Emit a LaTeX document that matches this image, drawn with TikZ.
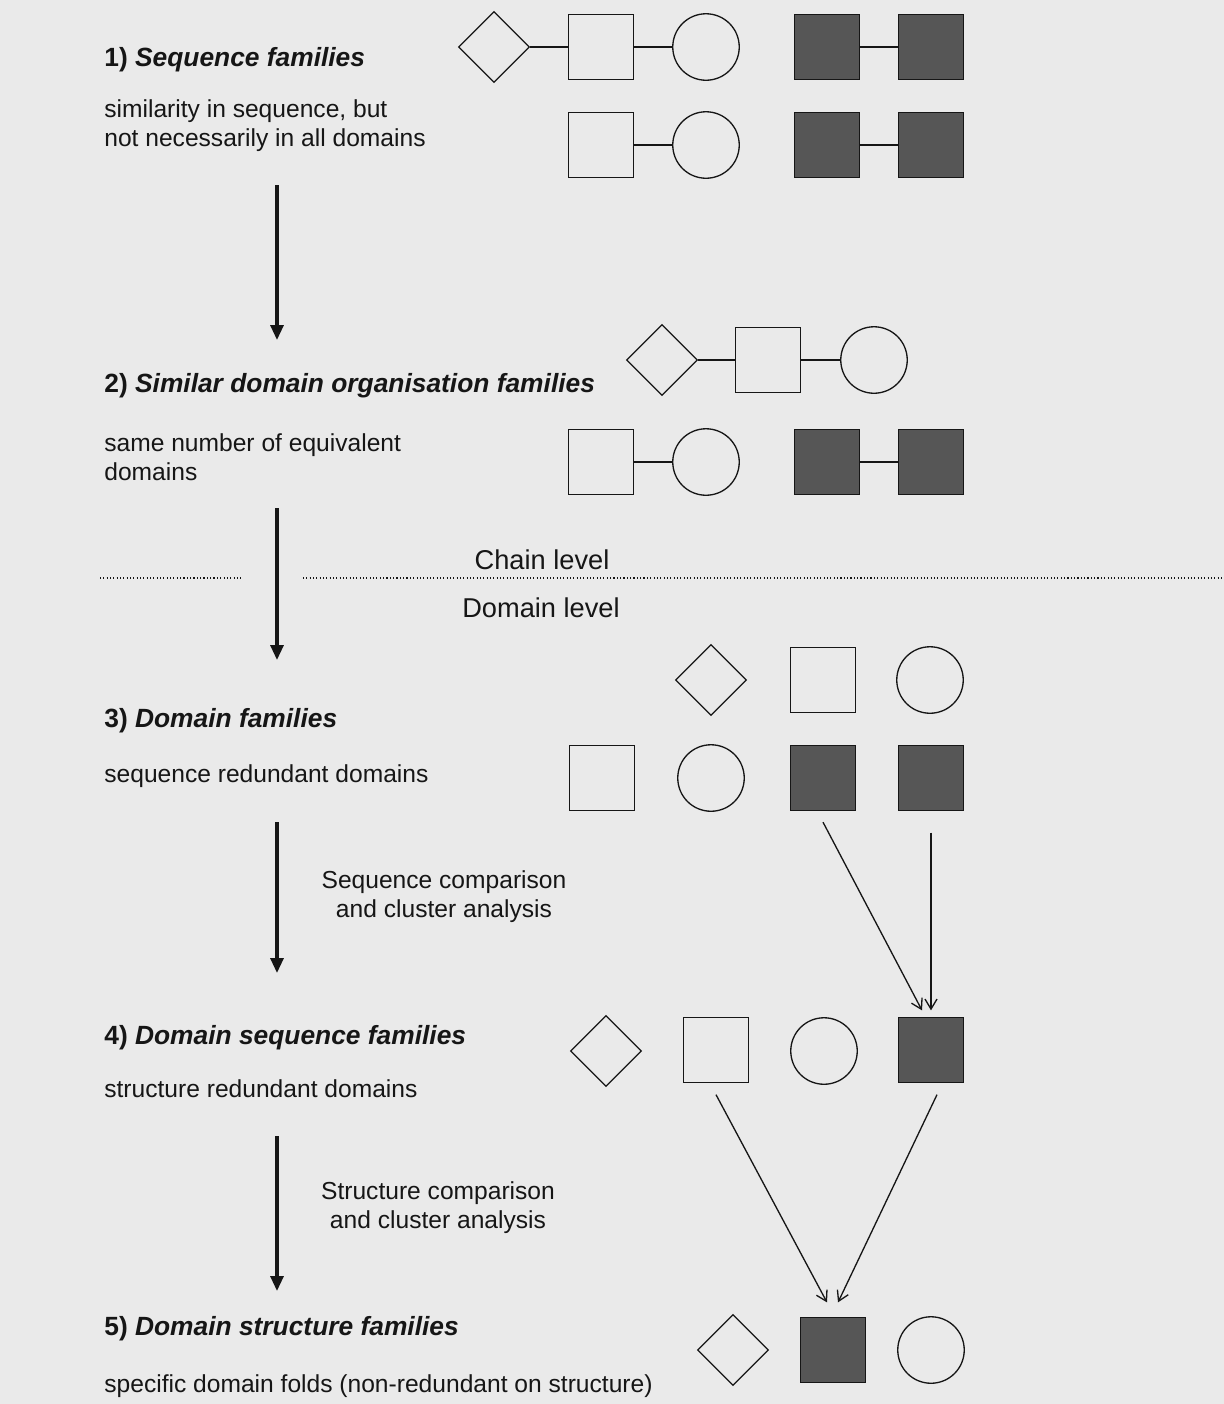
\documentclass[tikz,border=0pt]{standalone}
\usepackage{fontspec}
\setmainfont{Liberation Sans}
\usetikzlibrary{shapes.geometric,arrows.meta}
\definecolor{paper}{RGB}{234,234,234}
\definecolor{ink}{RGB}{22,22,22}
\definecolor{shade}{RGB}{86,86,86}
\tikzset{
  sqbox/.style={draw=ink, line width=0.75pt, minimum size=1.3cm, inner sep=0pt},
  darkbox/.style={sqbox, fill=shade},
  ringnode/.style={draw=ink, line width=0.75pt, circle, minimum size=1.33cm, inner sep=0pt},
  kitenode/.style={draw=ink, line width=0.75pt, diamond, minimum size=1.42cm, inner sep=0pt},
  joinline/.style={draw=ink, line width=1.1pt},
  flow/.style={ink, line width=1.8pt, -{Triangle[length=0.3cm,width=0.26cm]}},
  merge/.style={ink, line width=0.75pt, -{Straight Barb[length=0.2cm,width=0.24cm]}},
  levelline/.style={ink, line width=1.6pt, dash pattern=on 0.6pt off 1.3pt},
  famtitle/.style={anchor=base west, inner sep=0pt, text=ink, font=\fontsize{15}{18}\selectfont\bfseries},
  famnote/.style={anchor=base west, inner sep=0pt, text=ink, align=left, font=\fontsize{14}{16}\selectfont},
  stepnote/.style={anchor=base, inner sep=0pt, text=ink, align=center, font=\fontsize{14}{16}\selectfont},
  levelnote/.style={anchor=base, inner sep=0pt, text=ink, font=\fontsize{15.5}{18}\selectfont}
}
\begin{document}
\begin{tikzpicture}[x=0.02cm, y=-0.02cm]
	\useasboundingbox (0,0) rectangle (1224,1404);
	\fill[paper] (0,0) rectangle (1224,1404);
	
	% 1) sequence families
	\node[famtitle] (t1) at (104,66) {1) \textit{Sequence families}};
	\node[famnote] (n1) at (104,146) {similarity in sequence, but\\not necessarily in all domains};
	\node[kitenode] (k1a) at (494,47) {};
	\node[sqbox] (s1a) at (601,47) {};
	\node[ringnode] (r1a) at (706,47) {};
	\node[darkbox] (da1) at (827,47) {};
	\node[darkbox] (db1) at (931,47) {};
	\draw[joinline] (k1a) -- (s1a) -- (r1a);
	\draw[joinline] (da1) -- (db1);
	\node[sqbox] (s1b) at (601,145) {};
	\node[ringnode] (r1b) at (706,145) {};
	\node[darkbox] (dc1) at (827,145) {};
	\node[darkbox] (dd1) at (931,145) {};
	\draw[joinline] (s1b) -- (r1b);
	\draw[joinline] (dc1) -- (dd1);
	
	\coordinate (f1a) at (277,185);
	\coordinate (f1b) at (277,340);
	\draw[flow] (f1a) -- (f1b);
	
	% 2) similar domain organisation
	\node[famtitle] (t2) at (104,392) {2) \textit{Similar domain organisation families}};
	\node[famnote] (n2) at (104,480) {same number of equivalent\\domains};
	\node[kitenode] (k2a) at (662,360) {};
	\node[sqbox] (s2a) at (768,360) {};
	\node[ringnode] (r2a) at (874,360) {};
	\draw[joinline] (k2a) -- (s2a) -- (r2a);
	\node[sqbox] (s2b) at (601,462) {};
	\node[ringnode] (r2b) at (706,462) {};
	\node[darkbox] (da2) at (827,462) {};
	\node[darkbox] (db2) at (931,462) {};
	\draw[joinline] (s2b) -- (r2b);
	\draw[joinline] (da2) -- (db2);
	
	\coordinate (f2a) at (277,508);
	\coordinate (f2b) at (277,660);
	\draw[flow] (f2a) -- (f2b);
	
	% chain level / domain level
	\coordinate (l0) at (100,578);
	\coordinate (l1) at (243,578);
	\coordinate (l2) at (303,578);
	\coordinate (l3) at (1224,578);
	\draw[levelline] (l0) -- (l1);
	\draw[levelline] (l2) -- (l3);
	\node[levelnote] (lvc) at (542,569) {Chain level};
	\node[levelnote] (lvd) at (541,617) {Domain level};
	
	% 3) domain families
	\node[famtitle] (t3) at (104,727) {3) \textit{Domain families}};
	\node[famnote] (n3) at (104,782) {sequence redundant domains};
	\node[kitenode] (k3a) at (711,680) {};
	\node[sqbox] (s3a) at (823,680) {};
	\node[ringnode] (r3a) at (930,680) {};
	\node[sqbox] (s3b) at (602,778) {};
	\node[ringnode] (r3b) at (711,778) {};
	\node[darkbox] (dc3) at (823,778) {};
	\node[darkbox] (dd3) at (931,778) {};
	
	\coordinate (f3a) at (277,822);
	\coordinate (f3b) at (277,973);
	\draw[flow] (f3a) -- (f3b);
	\node[stepnote] (c3) at (444,917) {Sequence comparison\\and cluster analysis};
	
	% 4) domain sequence families
	\node[famtitle] (t4) at (104,1044) {4) \textit{Domain sequence families}};
	\node[famnote] (n4) at (104,1097) {structure redundant domains};
	\node[kitenode] (k4) at (606,1051) {};
	\node[sqbox] (s4) at (716,1050) {};
	\node[ringnode] (r4) at (824,1051) {};
	\node[darkbox] (dd4) at (931,1050) {};
	\draw[merge] ([yshift=-0.22cm]dc3.south) -- ([xshift=-0.18cm,yshift=0.13cm]dd4.north);
	\draw[merge] ([yshift=-0.43cm]dd3.south) -- ([yshift=0.13cm]dd4.north);
	
	\coordinate (f4a) at (277,1136);
	\coordinate (f4b) at (277,1291);
	\draw[flow] (f4a) -- (f4b);
	\node[stepnote] (c4) at (438,1228) {Structure comparison\\and cluster analysis};
	
	% 5) domain structure families
	\node[famtitle] (t5) at (104,1335) {5) \textit{Domain structure families}};
	\node[famnote] (n5) at (104,1392) {specific domain folds (non-redundant on structure)};
	\node[kitenode] (k5) at (733,1350) {};
	\node[darkbox] (dd5) at (833,1350) {};
	\node[ringnode] (r5) at (931,1350) {};
	\draw[merge] ([yshift=-0.23cm]s4.south) -- ([xshift=-0.12cm,yshift=0.29cm]dd5.north);
	\draw[merge] ([xshift=0.12cm,yshift=-0.23cm]dd4.south) -- ([xshift=0.1cm,yshift=0.29cm]dd5.north);
	
\end{tikzpicture}
\end{document}
